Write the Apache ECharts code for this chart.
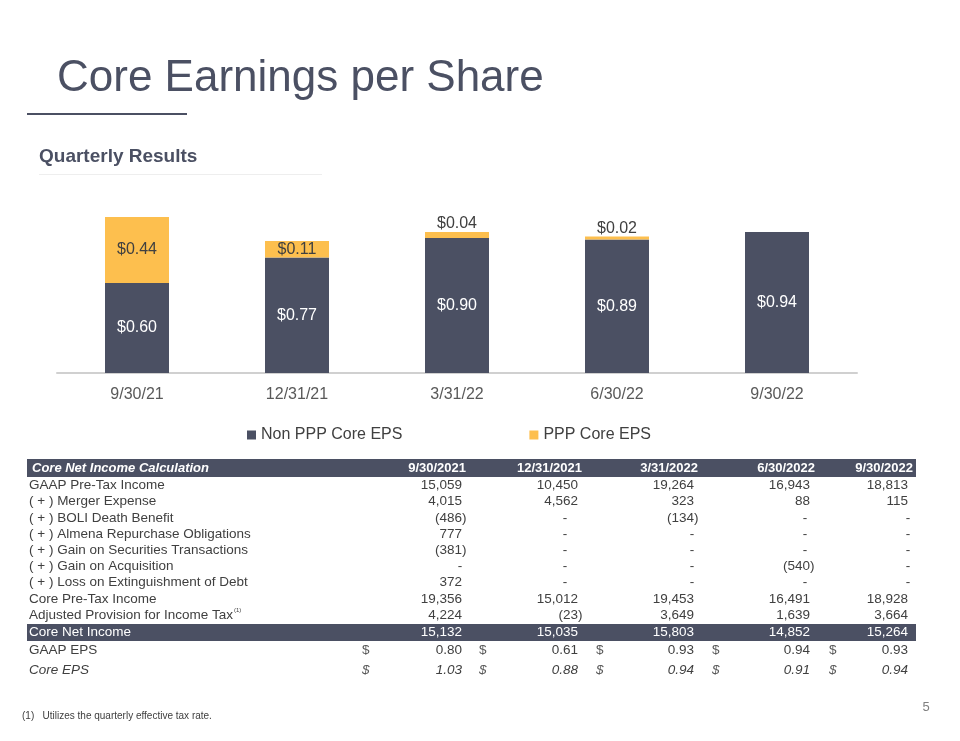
<!DOCTYPE html>
<html>
<head>
<meta charset="utf-8">
<script src="https://cdn.jsdelivr.net/npm/echarts@6/dist/echarts.min.js"></script>
<style>
  html, body { margin: 0; padding: 0; background: #fff; }
  #chart { width: 960px; height: 741px; }
</style>
</head>
<body>
<div id="chart"></div>
<script>
// bar chart data
const categories = ['9/30/21', '12/31/21', '3/31/22', '6/30/22', '9/30/22'];
const nonPppEps = [0.60, 0.77, 0.90, 0.89, 0.94];
const pppEps = [0.44, 0.11, 0.04, 0.02, null];

// table data
const tableTitle = 'Core Net Income Calculation';
const tableHeaders = ['9/30/2021', '12/31/2021', '3/31/2022', '6/30/2022', '9/30/2022'];
const rowLabels = [
  'GAAP Pre-Tax Income',
  '( + ) Merger Expense',
  '( + ) BOLI Death Benefit',
  '( + ) Almena Repurchase Obligations',
  '( + ) Gain on Securities Transactions',
  '( + ) Gain on Acquisition',
  '( + ) Loss on Extinguishment of Debt',
  'Core Pre-Tax Income',
  'Adjusted Provision for Income Tax'
];
const gaapPreTax = ['15,059', '10,450', '19,264', '16,943', '18,813'];
const mergerExpense = ['4,015', '4,562', '323', '88', '115'];
const boliDeath = ['(486)', '-', '(134)', '-', '-'];
const almenaRepurchase = ['777', '-', '-', '-', '-'];
const securitiesGain = ['(381)', '-', '-', '-', '-'];
const acquisitionGain = ['-', '-', '-', '(540)', '-'];
const debtLoss = ['372', '-', '-', '-', '-'];
const corePreTax = ['19,356', '15,012', '19,453', '16,491', '18,928'];
const adjustedTax = ['4,224', '(23)', '3,649', '1,639', '3,664'];
const coreNetIncome = ['15,132', '15,035', '15,803', '14,852', '15,264'];
const gaapEps = ['0.80', '0.61', '0.93', '0.94', '0.93'];
const coreEps = ['1.03', '0.88', '0.94', '0.91', '0.94'];

const DARK = '#4B5063';
const GOLD = '#FDBF4E';
const TXT = '#404040';
const FONT = 'Liberation Sans, Arial, sans-serif';
const TSIZE = 13.5;

// column layout of the table
const colRight = [462, 578, 694, 810, 908];
const headRight = [466, 582, 698, 815, 913];
const dashX = [460, 565, 692, 805, 908];
const dollarX = [362, 479, 596, 712, 829];

function txt(text, x, y, opts) {
  opts = opts || {};
  return {
    type: 'text',
    silent: true,
    z: 10,
    style: {
      text: text,
      x: x,
      y: y,
      align: opts.align || 'left',
      textAlign: opts.align || 'left',
      verticalAlign: 'middle',
      textVerticalAlign: 'middle',
      fontSize: opts.size || TSIZE,
      fontFamily: FONT,
      fontWeight: opts.weight || 'normal',
      fontStyle: opts.style || 'normal',
      fill: opts.color || TXT
    }
  };
}

function valueCell(v, i, y, color, style) {
  if (v === '-') {
    return txt('-', dashX[i], y, { align: 'center', color: color, style: style });
  }
  let x = colRight[i];
  if (v.charAt(0) === '(') {
    x += 4.5;
  }
  return txt(v, x, y, { align: 'right', color: color, style: style });
}

function buildTable() {
  let els = [];
  // header band
  els.push({ type: 'rect', silent: true, z: 5, shape: { x: 27, y: 459, width: 889, height: 18 }, style: { fill: DARK } });
  els.push(txt(tableTitle, 32, 468.5, { color: '#fff', weight: 'bold', style: 'italic', size: 13 }));
  for (var i = 0; i < tableHeaders.length; i++) {
    els.push(txt(tableHeaders[i], headRight[i], 468.5, { align: 'right', color: '#fff', weight: 'bold', size: 13 }));
  }

  let rows = [gaapPreTax, mergerExpense, boliDeath, almenaRepurchase, securitiesGain,
    acquisitionGain, debtLoss, corePreTax, adjustedTax];
  let y0 = 485.5;
  let step = 16.2;
  for (var r = 0; r < rows.length; r++) {
    let y = y0 + r * step;
    els.push(txt(rowLabels[r], 29, y));
    for (var c = 0; c < rows[r].length; c++) {
      els.push(valueCell(rows[r][c], c, y));
    }
  }
  // footnote marker on tax row
  els.push(txt('(1)', 234, 610, { size: 6 }));

  // core net income band
  els.push({ type: 'rect', silent: true, z: 5, shape: { x: 27, y: 624, width: 889, height: 17 }, style: { fill: DARK } });
  els.push(txt('Core Net Income', 29, 632.5, { color: '#fff' }));
  for (var c2 = 0; c2 < coreNetIncome.length; c2++) {
    els.push(valueCell(coreNetIncome[c2], c2, 632.5, '#fff'));
  }

  // EPS rows
  els.push(txt('GAAP EPS', 29, 650));
  els.push(txt('Core EPS', 29, 670, { style: 'italic' }));
  for (var k = 0; k < gaapEps.length; k++) {
    els.push(txt('$', dollarX[k], 650, { color: '#595959' }));
    els.push(valueCell(gaapEps[k], k, 650));
    els.push(txt('$', dollarX[k], 670, { color: '#595959', style: 'italic' }));
    els.push(valueCell(coreEps[k], k, 670, TXT, 'italic'));
  }
  return els;
}

let pppData = pppEps.map(function (v) {
  if (v === null) {
    return null;
  }
  // thin segments get their label on top
  let small = v < 0.08;
  return {
    value: v,
    label: small ? { position: 'top', distance: 0 } : { position: 'inside' }
  };
});

let myChart = echarts.init(document.getElementById('chart'), null, { renderer: 'canvas' });

let option = {
  backgroundColor: '#fff',
  animation: false,
  textStyle: { fontFamily: FONT },
  grid: { left: 57, right: 103, top: 193, bottom: 368, containLabel: false },
  legend: {
    data: ['Non PPP Core EPS', 'PPP Core EPS'],
    left: 242,
    top: 422,
    icon: 'rect',
    itemWidth: 9,
    itemHeight: 9,
    itemGap: 127,
    textStyle: { fontSize: 16, color: TXT, fontFamily: FONT }
  },
  xAxis: {
    type: 'category',
    data: categories,
    axisLine: { lineStyle: { color: '#D0D0D0', width: 2 } },
    axisTick: { show: false },
    axisLabel: { fontSize: 16, color: '#595959', margin: 14, fontFamily: FONT }
  },
  yAxis: {
    type: 'value',
    min: 0,
    max: 1.2,
    show: false,
    splitLine: { show: false }
  },
  series: [
    {
      name: 'Non PPP Core EPS',
      type: 'bar',
      stack: 'eps',
      barWidth: 64,
      data: nonPppEps,
      itemStyle: { color: DARK },
      label: {
        show: true,
        position: 'inside',
        color: '#fff',
        fontSize: 16,
        fontFamily: FONT,
        formatter: function (p) { return '$' + p.value.toFixed(2); }
      }
    },
    {
      name: 'PPP Core EPS',
      type: 'bar',
      stack: 'eps',
      barWidth: 64,
      data: pppData,
      itemStyle: { color: GOLD },
      label: {
        show: true,
        color: TXT,
        fontSize: 16,
        fontFamily: FONT,
        formatter: function (p) { return '$' + p.value.toFixed(2); }
      }
    }
  ],
  graphic: [
    txt('Core Earnings per Share', 57, 79, { size: 44, color: DARK }),
    { type: 'line', silent: true, shape: { x1: 27, y1: 114, x2: 187, y2: 114 }, style: { stroke: DARK, lineWidth: 2 } },
    txt('Quarterly Results', 39, 157, { size: 19, weight: 'bold', color: DARK }),
    { type: 'line', silent: true, shape: { x1: 39, y1: 174.5, x2: 322, y2: 174.5 }, style: { stroke: '#EEEEEE', lineWidth: 1 } },
    txt('(1)   Utilizes the quarterly effective tax rate.', 22, 716, { size: 10 }),
    txt('5', 926, 707, { size: 13, color: '#7F7F7F', align: 'center' })
  ].concat(buildTable())
};

myChart.setOption(option);
</script>
</body>
</html>
